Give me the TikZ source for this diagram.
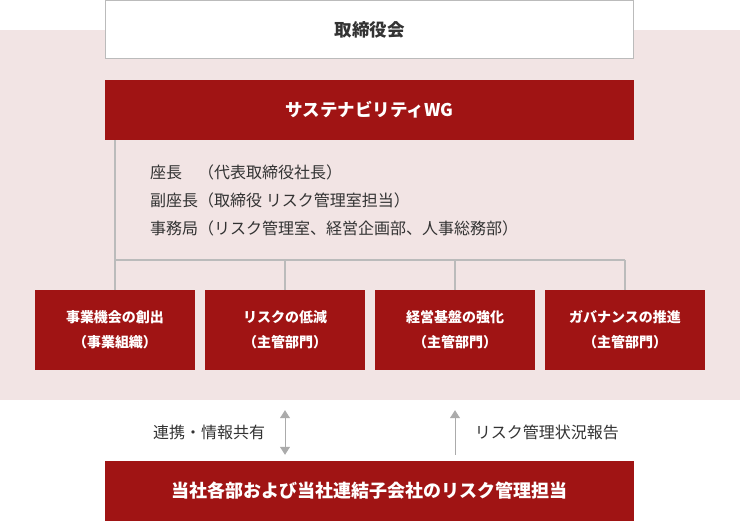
\documentclass[tikz,border=0pt]{standalone}
\usepackage{fontspec}
\setmainfont{Noto Sans CJK JP}
\usetikzlibrary{arrows.meta}

\definecolor{wgred}{HTML}{A01414}
\definecolor{bgpink}{HTML}{F2E4E4}
\definecolor{linegray}{HTML}{BBBBBB}
\definecolor{arrowgray}{HTML}{ABABAB}
\definecolor{textdark}{HTML}{333333}

\tikzset{
  redbox/.style={fill=wgred, text=white, inner sep=0pt, font=\bfseries},
  unitbox/.style={redbox, minimum width=160pt, minimum height=80pt, align=center,
    font=\bfseries\fontsize{14}{25}\selectfont},
  tree/.style={draw=linegray, line width=1.2pt},
  flow/.style={draw=arrowgray, line width=1pt},
  member/.style={anchor=west, text=textdark, inner sep=0pt, font=\fontsize{16}{19}\selectfont}
}

\begin{document}
\begin{tikzpicture}[x=1pt, y=-1pt, >={Triangle[width=10pt,length=8pt]}]
\useasboundingbox (0,0) rectangle (740,521);

% Background
\fill[bgpink] (0,30) rectangle (740,400);

% Board and working group
\node[draw=linegray, line width=1pt, fill=white, text=textdark, minimum width=528pt, minimum height=58pt,
  font=\bfseries\fontsize{17.5}{20}\selectfont] (board) at (369.5,29.5) {取締役会};
\node[redbox, minimum width=529pt, minimum height=60pt, font=\bfseries\fontsize{17.5}{20}\selectfont]
  (wg) at (369.5,110) {サステナビリティWG};

% Members
\node[member] (chair) at (150,172) {座長　（代表取締役社長）};
\node[member] (vice) at (150,200) {副座長（取締役 リスク管理室担当）};
\node[member] (office) at (150,228) {事務局（リスク管理室、経営企画部、人事総務部）};

% Theme units
\foreach \i/\x/\theme/\dept in {1/115/事業機会の創出/事業組織, 2/285/リスクの低減/主管部門,
    3/455/経営基盤の強化/主管部門, 4/625/ガバナンスの推進/主管部門}
  \node[unitbox] (u\i) at (\x,330) {\theme\\（\dept）};

% Tree
\coordinate (bus) at (0,260);
\draw[tree] (wg.south -| u1.north) -- (u1.north);
\draw[tree] (u1.north |- bus) -- (u4.north |- bus);
\foreach \i in {2,3,4}
  \draw[tree] (u\i.north |- bus) -- (u\i.north);

% Departments
\node[redbox, minimum width=529pt, minimum height=60pt, font=\bfseries\fontsize{18}{21}\selectfont]
  (dept) at (369.5,491) {当社各部および当社連結子会社のリスク管理担当};

% Reporting arrows
\draw[flow, <->] ([yshift=-40pt]u2.south) -- ([yshift=6pt]dept.north -| u2.south)
  node[midway, left=16pt, text=textdark, font=\fontsize{16}{19}\selectfont] (share) {連携・情報共有};
\draw[flow, ->] ([yshift=6pt]dept.north -| u3.south) -- ([yshift=-40pt]u3.south)
  node[midway, right=16pt, text=textdark, font=\fontsize{16}{19}\selectfont] (report) {リスク管理状況報告};
\end{tikzpicture}
\end{document}
